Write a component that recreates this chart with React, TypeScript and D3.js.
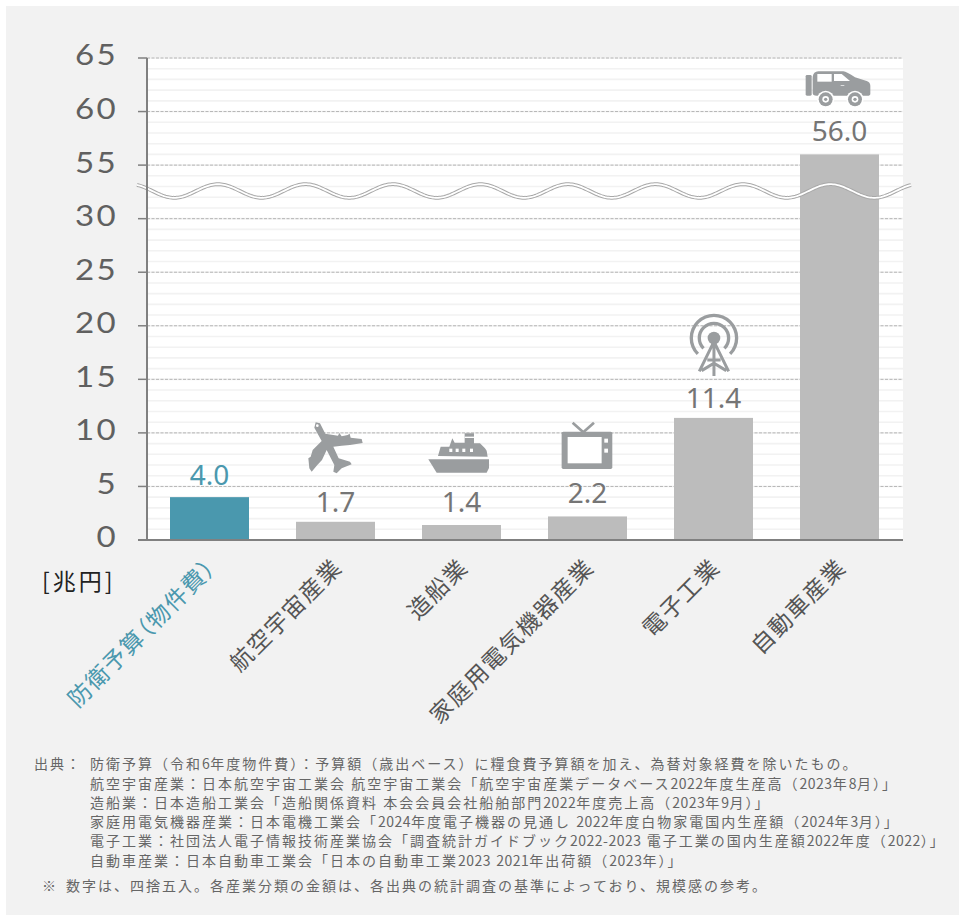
import React from "react";
import * as d3 from "d3";

const categories = ["防衛予算（物件費）", "航空宇宙産業", "造船業", "家庭用電気機器産業", "電子工業", "自動車産業"];
const values = [4.0, 1.7, 1.4, 2.2, 11.4, 56.0];
const valueLabels = ["4.0", "1.7", "1.4", "2.2", "11.4", "56.0"];
const labelGaps = [12, 10, 13, 13, 10, 13];
const yTicks = [0, 5, 10, 15, 20, 25, 30, 55, 60, 65];
const sourceLines = [
  "防衛予算（令和6年度物件費）：予算額（歳出ベース）に糧食費予算額を加え、為替対象経費を除いたもの。",
  "航空宇宙産業：日本航空宇宙工業会 航空宇宙工業会「航空宇宙産業データベース2022年度生産高（2023年8月）」",
  "造船業：日本造船工業会「造船関係資料 本会会員会社船舶部門2022年度売上高（2023年9月）」",
  "家庭用電気機器産業：日本電機工業会「2024年度電子機器の見通し 2022年度白物家電国内生産額（2024年3月）」",
  "電子工業：社団法人電子情報技術産業協会「調査統計ガイドブック2022-2023 電子工業の国内生産額2022年度（2022）」",
  "自動車産業：日本自動車工業会「日本の自動車工業2023 2021年出荷額（2023年）」",
];
const sourceBaselines = [769, 789, 808, 827, 846, 866];
const noteText = "数字は、四捨五入。各産業分類の金額は、各出典の統計調査の基準によっており、規模感の参考。";

const W = 959, H = 915;
const TEAL = "#4a98ae", BAR = "#bcbcbc", ICON = "#9a9d9f", AX = "#808080";
const JP = "'Noto Sans CJK JP', sans-serif";

const rows = d3.scaleLinear().domain([0, 45]).range([540, 58]);
const y = d3.scaleLinear().domain([0, 30, 55, 65]).range([rows(0), rows(30), rows(35), rows(45)]);
const x = d3.scaleBand<string>().domain(categories).range([146.5, 902.5]).paddingInner(0.373).paddingOuter(0.1865);
const cx = (c: string) => (x(c) as number) + x.bandwidth() / 2;

const waveLine = d3.line<number>().x((d) => d).y((d) => 191 - 6.8 * Math.cos((2 * Math.PI * (d - 218)) / 87.5));
const wave = waveLine(d3.range(137, 912.5, 1.5)) as string;

function mixed(s: string) {
  return s.split(/([0-9-]+)/).map((part, i) =>
    i % 2 === 1 ? (
      <tspan key={i} letterSpacing="0.5">{part}</tspan>
    ) : (
      <tspan key={i}>{part}</tspan>
    )
  );
}

function Plane() {
  return (
    <g transform="scale(0.3333)">
      <path fill={ICON} d="M47 22 L60 25 L76 56 L114 62 L118 54 L125 64 L143 60 L149 56 L152 68 L185 72 L188 84 L150 90 L125 92 L100 95 L116 130 L150 140 L155 148 L125 160 L110 175 L100 170 L103 150 L80 105 L66 135 L52 150 L35 170 L28 160 L25 130 L32 125 L38 105 L65 78 L43 38 Z" />
      <circle cx="52" cy="32" r="4" fill="#fff" />
    </g>
  );
}
function Ship() {
  return (
    <g transform="scale(0.3333)">
      <path fill={ICON} d="M415 478 H597 V504 L590 518 H440 Z" />
      <path fill={ICON} d="M444 468 L452 440 H478 L487 415 L494 428 H524 V400 H552 V430 H570 L585 445 L590 452 L593 470 Z" />
      {[478, 497, 517, 540].map((wx) => (
        <rect key={wx} x={wx} y="446" width="9" height="10" fill="#fff" />
      ))}
      <rect x="524" y="410" width="28" height="4" fill="#fff" />
    </g>
  );
}
function Tv() {
  return (
    <g transform="scale(0.3333)">
      <rect x="815" y="395" width="152" height="112" rx="5" fill={ICON} />
      <rect x="833" y="411" width="102" height="79" fill="#fff" />
      <rect x="943" y="416" width="11" height="12" fill="#fff" />
      <rect x="943" y="446" width="11" height="12" fill="#fff" />
      <path d="M848 368 L880 397 L912 368" fill="none" stroke={ICON} strokeWidth="8" />
    </g>
  );
}
function Tower() {
  const a = (r: number) =>
    d3.arc()({ innerRadius: r - 10, outerRadius: r, startAngle: -2.35, endAngle: 2.35 }) as string;
  return (
    <g transform="scale(0.3333)">
      <g transform="translate(1272,114)">
        <path fill={ICON} d={a(73)} />
        <path fill={ICON} d={a(49)} />
        <circle r="19" fill={ICON} />
      </g>
      <path d="M1272 120 V228 M1272 125 L1228 214 M1272 125 L1316 214 M1252 180 H1292 M1235 212 L1272 190 L1309 212" fill="none" stroke={ICON} strokeWidth="9" />
    </g>
  );
}
function Car() {
  return (
    <g transform="scale(0.3333)">
      <rect x="17" y="30" width="18" height="62" rx="4" fill={ICON} />
      <path fill={ICON} d="M38 36 Q40 20 55 19 H130 Q140 20 165 37 L200 48 Q211 52 211 62 V86 Q211 92 202 92 H50 Q38 92 38 84 Z" />
      <rect x="52" y="27" width="43" height="23" fill="#fff" />
      <path fill="#fff" d="M102 27 H125 L150 48 H102 Z" />
      <rect x="122" y="61" width="11" height="2" fill="#fff" />
      {[77, 165].map((wx) => (
        <g key={wx} transform={`translate(${wx},103)`}>
          <circle r="26" fill="#fff" />
          <circle r="21" fill={ICON} />
          <circle r="10" fill="#fff" />
          <circle r="5" fill={ICON} />
        </g>
      ))}
    </g>
  );
}
const icons = [
  null,
  { C: Plane, dx: -35.5, y0: 415 },
  { C: Ship, dx: -171.5, y0: 300 },
  { C: Tv, dx: -297.5, y0: 300 },
  { C: Tower, dx: -423.5, y0: 300 },
  { C: Car, dx: -39.5, y0: 65 },
];

export default function App() {
  return (
    <svg width={W} height={H} style={{ position: "absolute", left: 0, top: 0 }}>
      <rect x="6" y="6" width={W - 6} height={H - 6} fill="#f2f2f2" />
      <rect x="147" y={rows(45)} width="756" height={rows(0) - rows(45)} fill="#fff" />
      {d3.range(0, 46).map((r) => (
        <line key={r} x1="147" x2="903" y1={rows(r)} y2={rows(r)} stroke="#f2f2f2" strokeWidth="1.6" />
      ))}
      {yTicks.map((t) => (
        <g key={t}>
          {t !== 0 && <line x1="147" x2="903" y1={y(t)} y2={y(t)} stroke="#b5b5b5" strokeWidth="1" strokeDasharray="3 1.5" />}
          <line x1="138" x2="147" y1={y(t)} y2={y(t)} stroke={AX} strokeWidth="1.5" />
          <text x="118" y={y(t) + 7.5} textAnchor="end" fontFamily="Lato, sans-serif" fontSize="29" fill="#606060" letterSpacing="2" transform={`translate(${118 * (1 - 1.14)},0) scale(1.14,1)`}>
            {t}
          </text>
        </g>
      ))}
      {categories.map((c, i) => (
        <rect key={c} x={x(c)} y={y(values[i])} width={x.bandwidth()} height={y(0) - y(values[i])} fill={i === 0 ? TEAL : BAR} />
      ))}
      <path d={wave} fill="none" stroke="#a8a8a8" strokeWidth="3.8" />
      <path d={wave} fill="none" stroke="#fff" strokeWidth="1.8" />
      <line x1="147" x2="147" y1={rows(45)} y2={rows(0)} stroke={AX} strokeWidth="2" />
      <line x1="138" x2="903" y1={rows(0)} y2={rows(0)} stroke={AX} strokeWidth="2" />
      {categories.map((c, i) => (
        <text key={c} x={cx(c)} y={y(values[i]) - labelGaps[i]} textAnchor="middle" fontFamily="'Noto Sans', sans-serif" fontSize="28" fill={i === 0 ? TEAL : "#757575"}>
          {valueLabels[i]}
        </text>
      ))}
      {icons.map((ic, i) => {
        if (!ic) return null;
        const { C } = ic;
        return (
          <g key={i} transform={`translate(${cx(categories[i]) + ic.dx},${ic.y0})`}>
            <C />
          </g>
        );
      })}
      {categories.map((c, i) => (
        <text key={c} transform={`translate(${cx(c) + 8},${i === 0 ? 569 : 569}) rotate(-45)`} textAnchor="end" fontFamily={JP} fontSize="23" letterSpacing="1.5" fill={i === 0 ? TEAL : "#555"} style={i === 0 ? { fontFeatureSettings: '"palt"' } : undefined}>
          {c}
        </text>
      ))}
      <text x="42" y="590" fontFamily={JP} fontSize="23" fill="#222" letterSpacing="3">[兆円]</text>
      <g fontFamily={JP} fontSize="14" fill="#666" letterSpacing="2">
        <text x="34" y={sourceBaselines[0]}>出典：</text>
        {sourceLines.map((s, i) => (
          <text key={i} x="90" y={sourceBaselines[i]}>{mixed(s)}</text>
        ))}
        <text x="42" y="891">※</text>
        <text x="66" y="891">{noteText}</text>
      </g>
    </svg>
  );
}
